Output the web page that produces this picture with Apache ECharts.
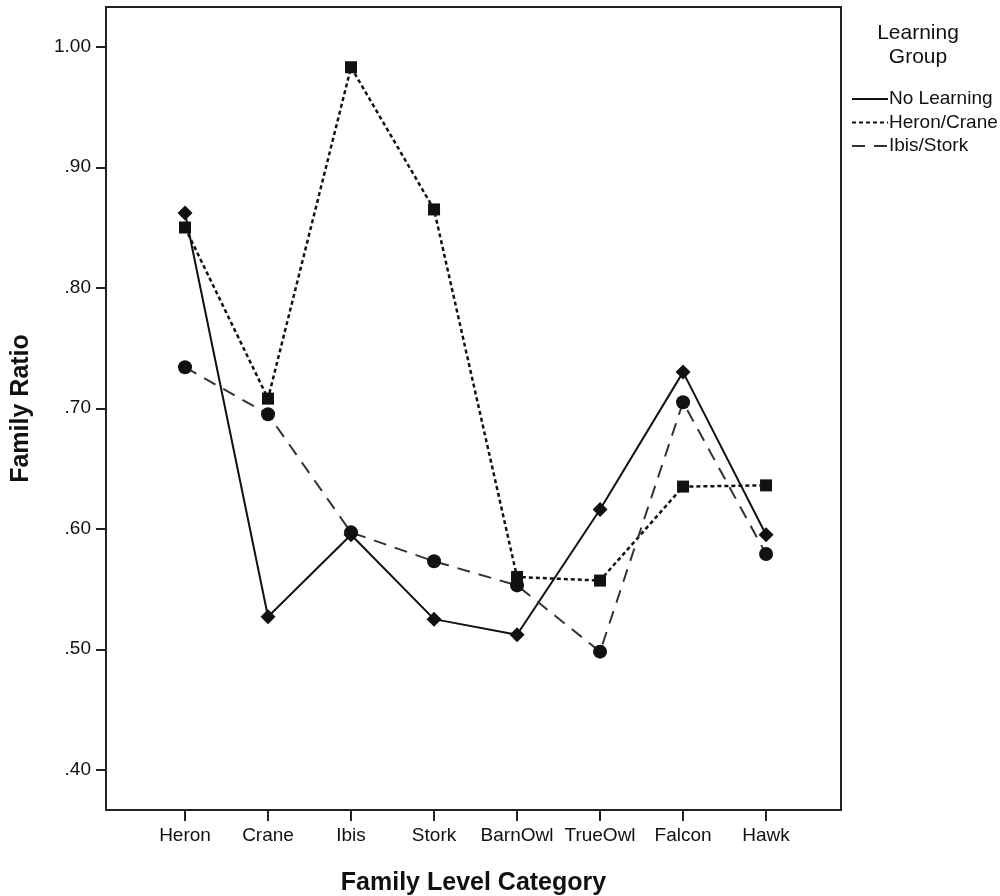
<!DOCTYPE html>
<html>
<head>
<meta charset="utf-8">
<script src="https://cdn.jsdelivr.net/npm/echarts@6/dist/echarts.min.js"></script>
<style>
  html, body { margin: 0; padding: 0; background: #fff; }
  #chart { width: 1000px; height: 896px; }
</style>
</head>
<body>
<div id="chart"></div>
<script>
// Family ratio by family level category, per learning group
const categories = ['Heron', 'Crane', 'Ibis', 'Stork', 'BarnOwl', 'TrueOwl', 'Falcon', 'Hawk'];
const noLearning = [0.862, 0.527, 0.595, 0.525, 0.512, 0.616, 0.730, 0.595];
const heronCrane = [0.850, 0.708, 0.983, 0.865, 0.560, 0.557, 0.635, 0.636];
const ibisStork  = [0.734, 0.695, 0.597, 0.573, 0.553, 0.498, 0.705, 0.579];
const yTicks = [0.4, 0.5, 0.6, 0.7, 0.8, 0.9, 1.0];

const FONT = '"Liberation Sans", Arial, sans-serif';
const INK = '#111';

function pairs(values) {
  return values.map((v, i) => [i, v]);
}
const xTicks = categories.map((_, i) => i);

const chart = echarts.init(document.getElementById('chart'), null, { renderer: 'canvas' });
chart.setOption({
  animation: false,
  backgroundColor: '#fff',
  grid: {
    left: 106, top: 7, right: 159, bottom: 86,
    outerBoundsMode: 'none',
    containLabel: false,
    show: true, borderColor: '#222', borderWidth: 2, backgroundColor: 'transparent'
  },
  xAxis: {
    type: 'value',
    min: -0.952, max: 7.903,
    splitLine: { show: false },
    axisLine: { show: true, onZero: false, lineStyle: { color: '#222', width: 2 } },
    axisTick: { show: true, customValues: xTicks, length: 11, lineStyle: { color: '#222', width: 2 } },
    axisLabel: {
      customValues: xTicks,
      formatter: v => categories[Math.round(v)],
      color: INK, fontFamily: FONT, fontSize: 19, margin: 16
    },
    name: 'Family Level Category',
    nameLocation: 'middle',
    nameGap: 61,
    nameTextStyle: { color: INK, fontFamily: FONT, fontSize: 25, fontWeight: 'bold' }
  },
  yAxis: {
    type: 'value',
    min: 0.3666, max: 1.033,
    splitLine: { show: false },
    axisLine: { show: true, onZero: false, lineStyle: { color: '#222', width: 2 } },
    axisTick: { show: true, customValues: yTicks, length: 10, lineStyle: { color: '#222', width: 2 } },
    axisLabel: {
      customValues: yTicks,
      formatter: v => v.toFixed(2).replace(/^0/, ''),
      color: INK, fontFamily: FONT, fontSize: 19, margin: 15
    },
    name: 'Family Ratio',
    nameLocation: 'middle',
    nameGap: 72,
    nameRotate: 90,
    nameTextStyle: { color: INK, fontFamily: FONT, fontSize: 25, fontWeight: 'bold' }
  },
  legend: {
    orient: 'vertical',
    left: 846, top: 84,
    itemWidth: 36, itemHeight: 14, itemGap: 3.5,
    itemStyle: { opacity: 0 },
    textStyle: { color: INK, fontFamily: FONT, fontSize: 19, lineHeight: 20, padding: [0, 0, 0, -4] },
    data: ['No Learning', 'Heron/Crane', 'Ibis/Stork']
  },
  graphic: [{
    type: 'text',
    x: 918, y: 21,
    style: {
      text: 'Learning\nGroup',
      align: 'center',
      verticalAlign: 'top',
      fill: INK,
      font: '21px ' + FONT,
      lineHeight: 24
    }
  }],
  series: [
    {
      name: 'No Learning', type: 'line', data: pairs(noLearning),
      symbol: 'diamond', symbolSize: 15,
      itemStyle: { color: INK },
      lineStyle: { color: INK, width: 2, type: 'solid' }
    },
    {
      name: 'Heron/Crane', type: 'line', data: pairs(heronCrane),
      symbol: 'rect', symbolSize: 12,
      itemStyle: { color: INK },
      lineStyle: { color: INK, width: 2.5, type: [4, 3] }
    },
    {
      name: 'Ibis/Stork', type: 'line', data: pairs(ibisStork),
      symbol: 'circle', symbolSize: 14,
      itemStyle: { color: INK },
      lineStyle: { color: '#333', width: 2, type: [13, 9] }
    }
  ]
});
</script>
</body>
</html>
